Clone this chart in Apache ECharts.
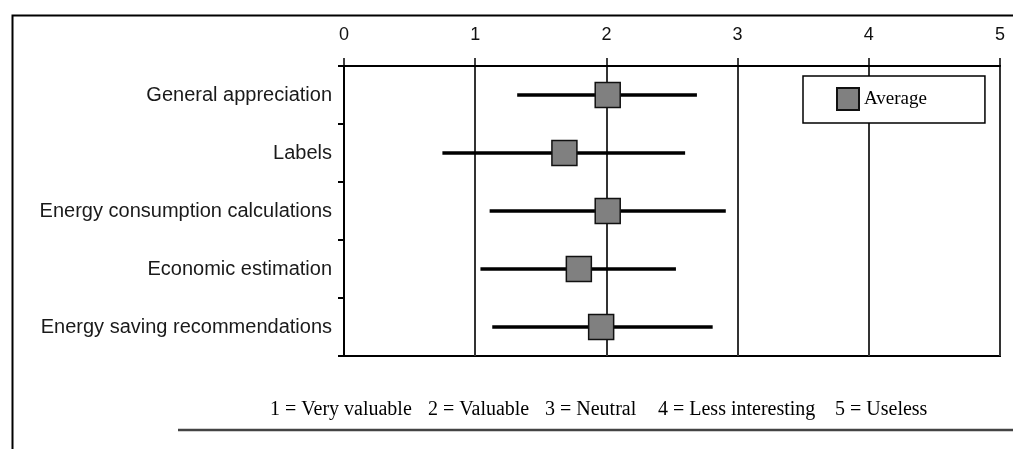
<!DOCTYPE html>
<html>
<head>
<meta charset="utf-8">
<script src="https://cdn.jsdelivr.net/npm/echarts@6/dist/echarts.min.js"></script>
<style>
  html, body { margin: 0; padding: 0; background: #fff; }
  #chart { width: 1013px; height: 449px; }
</style>
</head>
<body>
<div id="chart"></div>
<script>
// Survey items, top to bottom
var categories = [
  'General appreciation',
  'Labels',
  'Energy consumption calculations',
  'Economic estimation',
  'Energy saving recommendations'
];
// Mean score per item and the spread of answers (low / high end of bar)
var averages = [2.01, 1.68, 2.01, 1.79, 1.96];
var lows     = [1.32, 0.75, 1.11, 1.04, 1.13];
var highs    = [2.69, 2.60, 2.91, 2.53, 2.81];
// Scale ticks and the scale key shown under the chart
var scaleTicks = [0, 1, 2, 3, 4, 5];
var scaleKey = ['1 = Very valuable', '2 = Valuable', '3 = Neutral', '4 = Less interesting', '5 = Useless'];
var keyX = [270, 428, 545, 658, 835];

var chart = echarts.init(document.getElementById('chart'), null, { renderer: 'canvas' });

var rangeData = categories.map(function (c, i) { return [lows[i], highs[i], i]; });
var avgData = categories.map(function (c, i) { return [averages[i], i]; });

var graphics = [
  // outer frame
  { type: 'rect', left: 10, top: 13, shape: { x: 0, y: 0, width: 1100, height: 500 },
    style: { fill: 'none', stroke: '#000', lineWidth: 2 }, z: 0 },
  // rule under the scale key
  { type: 'line', shape: { x1: 178, y1: 430, x2: 1020, y2: 430 },
    style: { stroke: '#444', lineWidth: 2.5 }, z: 0 }
];
scaleKey.forEach(function (t, i) {
  graphics.push({
    type: 'text', x: keyX[i], y: 410,
    style: { text: t, font: '20px "Liberation Serif"', fill: '#000', textVerticalAlign: 'middle', verticalAlign: 'middle' },
    z: 1
  });
});

chart.setOption({
  animation: false,
  backgroundColor: '#fff',
  graphic: graphics,
  grid: {
    left: 344, right: 13, top: 66, bottom: 93,
    show: true, borderColor: '#000', borderWidth: 2, backgroundColor: 'transparent'
  },
  legend: {
    data: ['Average'],
    left: 803, top: 76,
    orient: 'horizontal',
    backgroundColor: '#fff',
    borderColor: '#000',
    borderWidth: 1.5,
    borderRadius: 0,
    padding: [11, 58, 12, 33],
    itemWidth: 22, itemHeight: 22, itemGap: 6,
    textStyle: { fontFamily: 'Liberation Serif', fontSize: 19, color: '#000' },
    z: 10
  },
  xAxis: {
    type: 'value',
    position: 'top',
    min: scaleTicks[0],
    max: scaleTicks[scaleTicks.length - 1],
    interval: 1,
    axisLine: { show: true, lineStyle: { color: '#000', width: 2 } },
    axisTick: { show: true, length: 8, lineStyle: { color: '#000', width: 1.5 } },
    axisLabel: { margin: 22, fontFamily: 'Liberation Sans', fontSize: 18, color: '#111' },
    splitLine: { show: true, lineStyle: { color: '#333', width: 2 } }
  },
  yAxis: {
    type: 'category',
    data: categories,
    inverse: true,
    axisLine: { show: true, lineStyle: { color: '#000', width: 2 } },
    axisTick: { show: true, length: 6, lineStyle: { color: '#000', width: 2 } },
    axisLabel: { margin: 12, fontFamily: 'Liberation Sans', fontSize: 20, color: '#1a1a1a' },
    splitLine: { show: false }
  },
  series: [
    {
      name: 'Range',
      type: 'custom',
      data: rangeData,
      encode: { x: [0, 1], y: 2 },
      renderItem: function (params, api) {
        var a = api.coord([api.value(0), api.value(2)]);
        var b = api.coord([api.value(1), api.value(2)]);
        return {
          type: 'line',
          shape: { x1: a[0], y1: a[1], x2: b[0], y2: b[1] },
          style: { stroke: '#000', lineWidth: 3.5 }
        };
      },
      z: 3
    },
    {
      name: 'Average',
      type: 'scatter',
      data: avgData,
      symbol: 'rect',
      symbolSize: 25,
      itemStyle: { color: '#808080', borderColor: '#111', borderWidth: 1.5, opacity: 1 },
      z: 4
    }
  ]
});
</script>
</body>
</html>
